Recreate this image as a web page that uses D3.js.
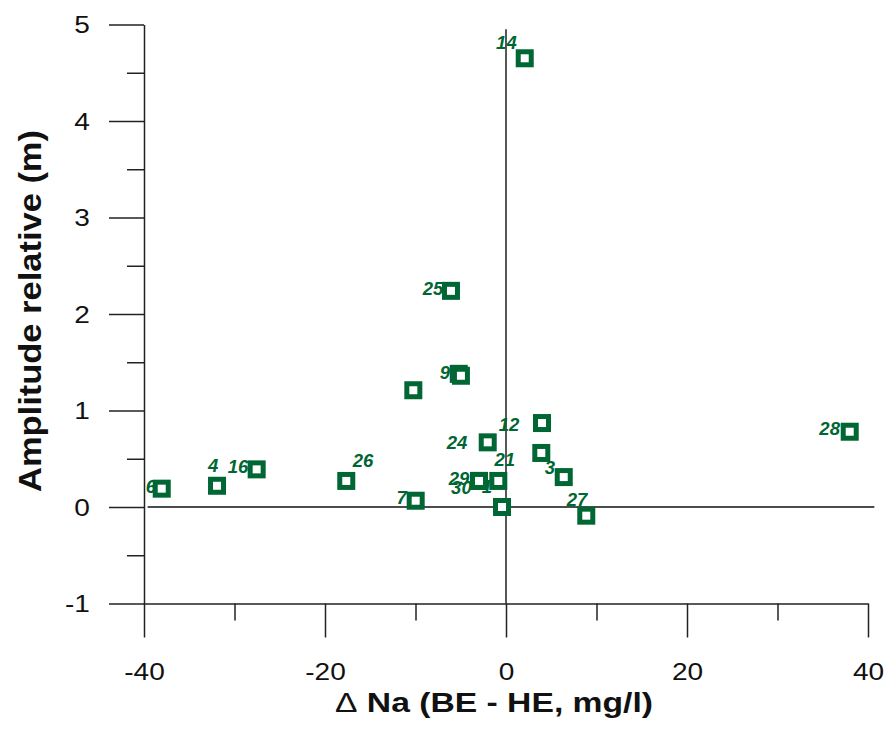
<!DOCTYPE html>
<html><head><meta charset="utf-8">
<script src="https://cdn.jsdelivr.net/npm/d3@7"></script>
<style>body{margin:0;background:#fff}svg{display:block}</style></head>
<body><svg id="c" width="888" height="733"></svg>
<script>
// ---- data ----
const deltaNa   = [2.07, -6.08, -5.22, -4.98, -10.24, 3.98, 3.90, 6.38, 8.87, -2.02, -2.98, -2.98, -0.85, -0.44, -9.98, -38.04, -31.93, -27.55, -17.65, 37.98];
const amplitude = [4.65,  2.24,  1.38,  1.36,   1.21, 0.87, 0.56, 0.31, -0.09, 0.67,  0.27,  0.27,  0.27,  0.00,  0.065,  0.19,   0.22,   0.39,   0.27,  0.78];
const labelText = ["14", "25", "9", "12", "24", "21", "3", "29", "30", "1", "27", "7", "6", "4", "16", "26", "28"];
const labelX    = [1.18, -6.93, -6.19, 1.47, -4.28, 0.99, 5.41, -4.06, -3.79, -1.55, 8.98, -10.97, -38.67, -31.79, -28.48, -14.66, 36.9];
const labelY    = [4.743, 2.197, 1.323, 0.791, 0.598, 0.428, 0.339, 0.232, 0.138, 0.142, 0.010, 0.031, 0.142, 0.366, 0.349, 0.411, 0.746];
const xMajorTicks = [-40, -20, 0, 20, 40];
const xMinorTicks = [-30, -10, 10, 30];
const yMajorTicks = [-1, 0, 1, 2, 3, 4, 5];
const yMinorTicks = [-0.5, 0.5, 1.5, 2.5, 3.5, 4.5];
const zeroLineX = [-39.6, 40.7];
const zeroLineY = [4.95, -1];
const xTitle = ["\u0394", " Na (BE - HE, mg/l)"];
const yTitle = "Amplitude relative (m)";

// ---- chart ----
const svg = d3.select("#c");
const green = "#006633";
const axisCol = "#222";
const fontFam = "'Liberation Sans', Arial, sans-serif";
const x = d3.scaleLinear().domain([-40, 40]).range([144, 868]);
const y = d3.scaleLinear().domain([-1, 5]).range([603.5, 24.5]);
const plainFmt = d => String(d);

// zero reference lines
svg.append("line").attr("x1", x(zeroLineX[0])).attr("x2", x(zeroLineX[1]))
  .attr("y1", y(0)).attr("y2", y(0)).attr("stroke", "#111").attr("stroke-width", 1.4);
svg.append("line").attr("x1", x(0)).attr("x2", x(0))
  .attr("y1", y(zeroLineY[0])).attr("y2", y(zeroLineY[1])).attr("stroke", "#111").attr("stroke-width", 1.4);

function styleAxis(g) {
  g.selectAll("path,line").attr("stroke", axisCol).attr("stroke-width", 1.5);
}

// y axis
const yMinor = svg.append("g").attr("transform", `translate(${x(-40)},0)`)
  .call(d3.axisLeft(y).tickValues(yMinorTicks).tickSize(17).tickFormat(""));
yMinor.select(".domain").remove();
styleAxis(yMinor);
const yAxis = svg.append("g").attr("transform", `translate(${x(-40)},0)`)
  .call(d3.axisLeft(y).tickValues(yMajorTicks).tickSize(35).tickSizeOuter(0).tickFormat(plainFmt));
styleAxis(yAxis);
yAxis.selectAll("text").attr("x", -44.3).attr("dy", "0.35em")
  .attr("transform", "scale(1.22,1)")
  .style("font-family", fontFam).style("font-size", "23px").attr("fill", "#111");

// x axis
const xMinor = svg.append("g").attr("transform", `translate(0,${y(-1)})`)
  .call(d3.axisBottom(x).tickValues(xMinorTicks).tickSize(17).tickFormat(""));
xMinor.select(".domain").remove();
styleAxis(xMinor);
const xAxis = svg.append("g").attr("transform", `translate(0,${y(-1)})`)
  .call(d3.axisBottom(x).tickValues(xMajorTicks).tickSize(34).tickSizeOuter(0).tickFormat(plainFmt));
styleAxis(xAxis);
xAxis.selectAll("text").attr("y", 77).attr("dy", 0)
  .attr("transform", "scale(1.22,1)")
  .style("font-family", fontFam).style("font-size", "23px").attr("fill", "#111");

// point labels (drawn under markers)
svg.append("g").selectAll("text").data(labelText).join("text")
  .attr("x", (d, i) => x(labelX[i])).attr("y", (d, i) => y(labelY[i]))
  .attr("text-anchor", "end")
  .style("font-family", fontFam)
  .style("font-size", "18.5px").style("font-weight", "bold").style("font-style", "italic")
  .attr("fill", green).text(d => d);

// markers
const ms = 13;
svg.append("g").selectAll("rect").data(deltaNa).join("rect")
  .attr("x", (d) => x(d) - ms / 2).attr("y", (d, i) => y(amplitude[i]) - ms / 2)
  .attr("width", ms).attr("height", ms)
  .attr("fill", "#fff").attr("stroke", green).attr("stroke-width", 5);

// axis titles
const xt = svg.append("text").attr("x", 494).attr("y", 711.7).attr("text-anchor", "middle")
  .attr("textLength", 318).attr("lengthAdjust", "spacingAndGlyphs")
  .style("font-family", fontFam).style("font-size", "28px")
  .style("font-weight", "bold").attr("fill", "#111");
xt.append("tspan").style("font-weight", "normal").text(xTitle[0]);
xt.append("tspan").text(xTitle[1]);

svg.append("text").attr("transform", "translate(41,311) rotate(-90)")
  .attr("text-anchor", "middle")
  .attr("textLength", 362).attr("lengthAdjust", "spacingAndGlyphs")
  .style("font-family", fontFam).style("font-size", "31px")
  .style("font-weight", "bold").attr("fill", "#111").text(yTitle);
</script>
</body></html>
